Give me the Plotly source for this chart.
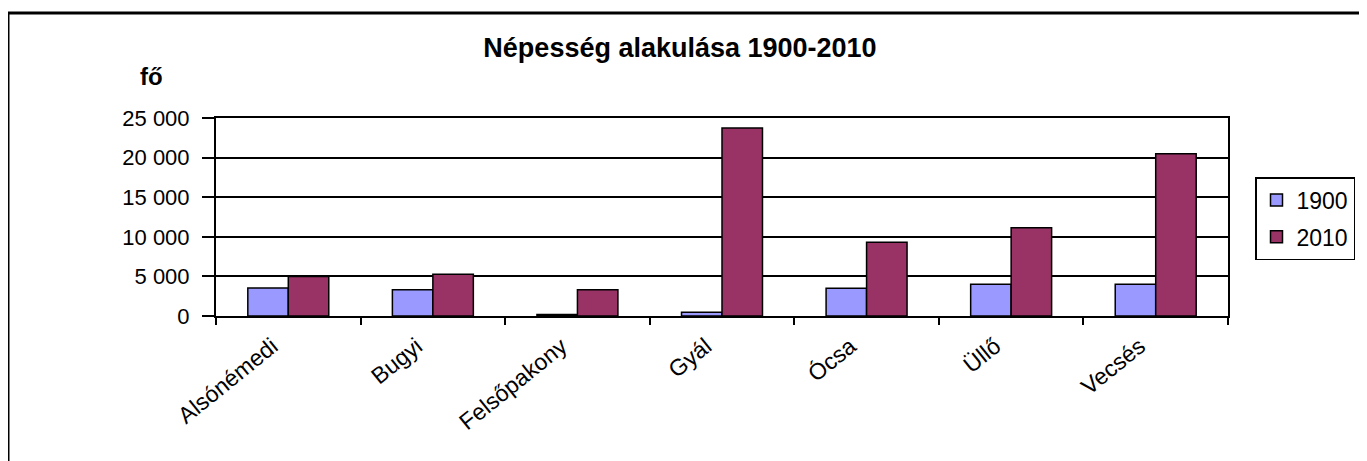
import plotly.graph_objects as go

categories = ["Alsónémedi", "Bugyi", "Felsőpakony", "Gyál", "Ócsa", "Üllő", "Vecsés"]
pop_1900 = [3550, 3300, 200, 480, 3500, 4000, 4000]
pop_2010 = [5000, 5270, 3300, 23730, 9320, 11150, 20480]
series_names = ["1900", "2010"]
y_ticks = [0, 5000, 10000, 15000, 20000, 25000]

FONT = "Liberation Sans, Arial, sans-serif"

fig = go.Figure()
fig.add_trace(go.Bar(x=categories, y=pop_1900, name=series_names[0], legendgroup="a",
                     marker=dict(color="#9999FF", line=dict(color="black", width=1.5))))
fig.add_trace(go.Bar(x=categories, y=pop_2010, name=series_names[1], legendgroup="b",
                     marker=dict(color="#993366", line=dict(color="black", width=1.5))))

OFF = 8  # page body margin
W, H = 1367 - OFF, 461 - OFF
L, R, T, B = 216 - OFF, 1228 - OFF, 118 - OFF, 316 - OFF
pw, ph = R - L, B - T

def px(x):
    return (x - OFF - L) / pw

def py(y):
    return (B - (y - OFF)) / ph

fig.update_layout(
    width=W, height=H,
    margin=dict(l=L, r=W - R, t=T, b=H - B),
    paper_bgcolor="white", plot_bgcolor="white",
    separators=", ",
    bargap=0.44, bargroupgap=0,
    font=dict(family=FONT, size=22, color="black"),
    title=dict(text="<b>Népesség alakulása 1900-2010</b>", x=(680 - OFF) / W, xanchor="center",
               y=1 - (48 - OFF) / H, yanchor="middle", font=dict(size=27, family=FONT)),
    showlegend=True,
    legend=dict(x=px(1255), xanchor="left", y=py(177), yanchor="top",
                bordercolor="black", borderwidth=1.5, bgcolor="white",
                font=dict(size=23, family=FONT), tracegroupgap=4,
                itemwidth=30),
    xaxis=dict(showline=True, linecolor="black", linewidth=2, mirror=True,
               ticks="outside", ticklen=7, tickwidth=1.5, tickcolor="black",
               tickson="boundaries", tickangle=-39, showgrid=False,
               ticklabelstandoff=6, ticklabelshift=-16,
               tickfont=dict(size=23, family=FONT)),
    yaxis=dict(range=[0, 25000], tickvals=y_ticks, tickformat=",d",
               showline=True, linecolor="black", linewidth=2, mirror=True,
               ticks="outside", ticklen=12, tickwidth=1.5, tickcolor="black",
               showgrid=True, gridcolor="black", gridwidth=1.5,
               ticklabelstandoff=8, zeroline=False,
               tickfont=dict(size=22, family=FONT)),
    shapes=[dict(type="rect", xref="paper", yref="paper",
                 x0=px(8), x1=px(1400), y0=py(13), y1=py(500),
                 line=dict(color="black", width=3), fillcolor="rgba(0,0,0,0)", layer="below")],
    annotations=[dict(text="<b>fő</b>", xref="paper", yref="paper", x=px(151), y=py(76),
                      xanchor="center", yanchor="middle", showarrow=False,
                      font=dict(size=24, family=FONT))],
)

fig.write_html("out.html")
